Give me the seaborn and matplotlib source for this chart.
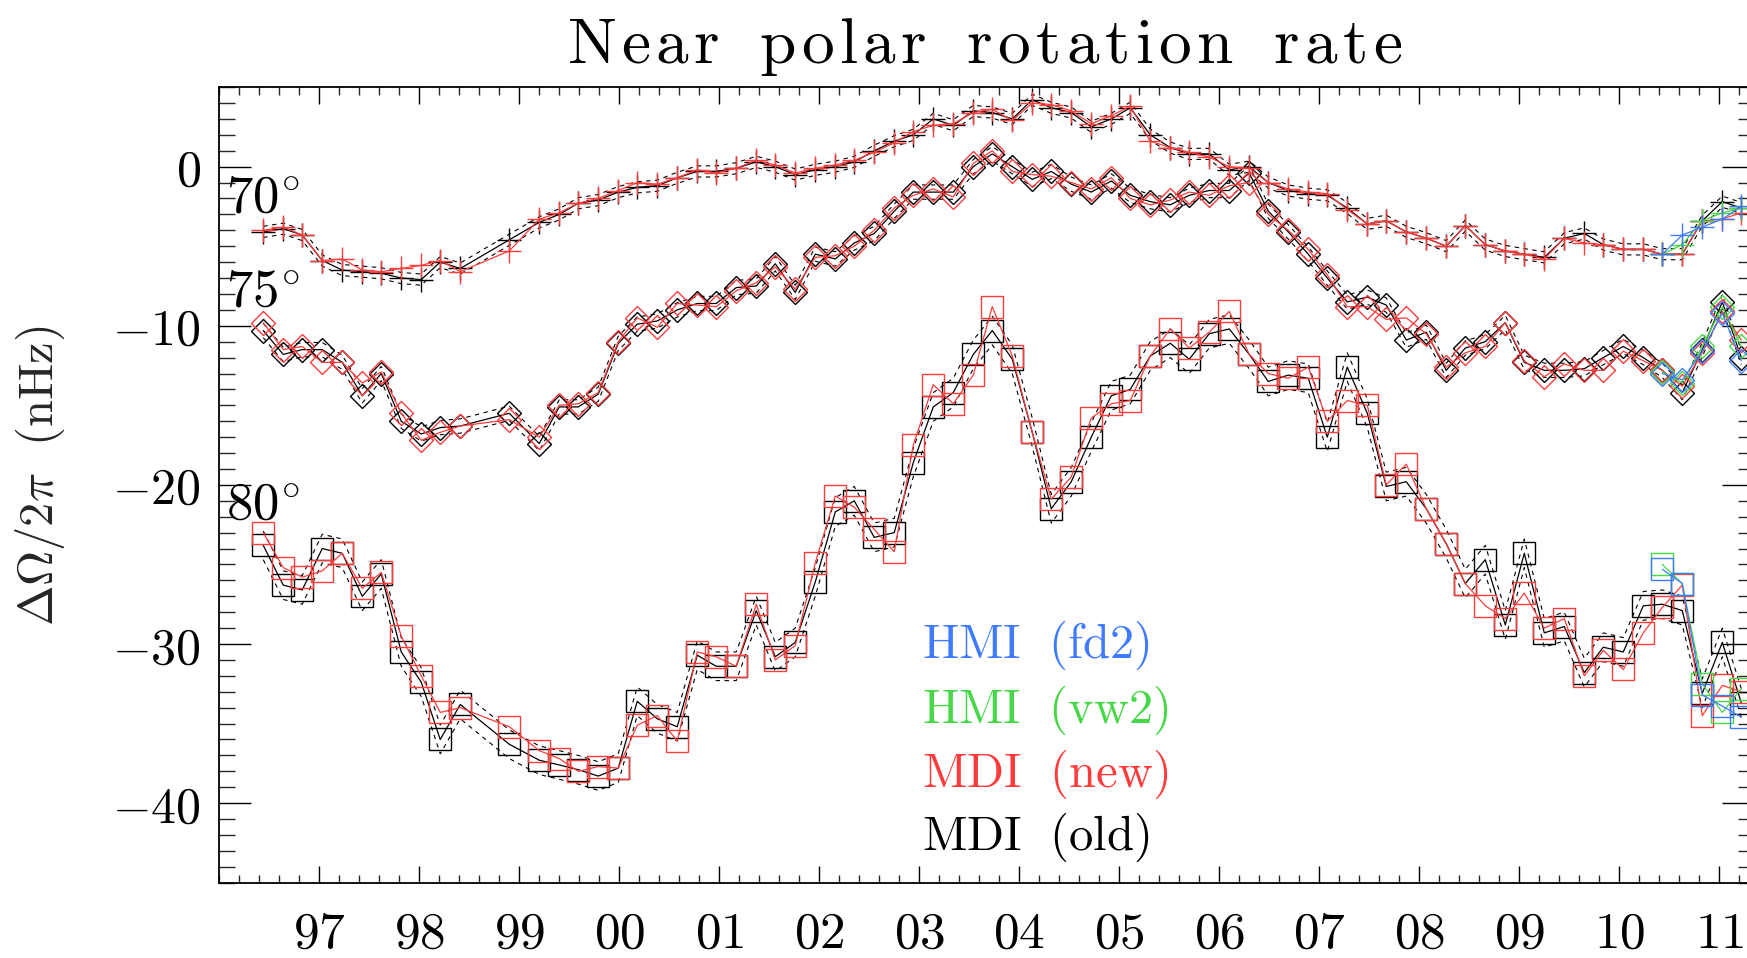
import numpy as np
import pandas as pd
import matplotlib
matplotlib.use("Agg")
import matplotlib.pyplot as plt
from matplotlib.ticker import FixedLocator, MultipleLocator, FuncFormatter
import seaborn as sns

# ---------------------------------------------------------------------------
# 72-day MDI epochs (decimal years) and HMI epochs
t_mdi = [1996.44, 1996.64, 1996.83, 1997.03, 1997.23, 1997.43, 1997.62, 1997.82,
         1998.02, 1998.21, 1998.41, 1998.90, 1999.20, 1999.40, 1999.59, 1999.79,
         1999.99, 2000.18, 2000.38, 2000.58, 2000.78, 2000.97, 2001.17, 2001.37,
         2001.56, 2001.76, 2001.96, 2002.16, 2002.35, 2002.55, 2002.75, 2002.94,
         2003.14, 2003.34, 2003.54, 2003.73, 2003.93, 2004.13, 2004.32, 2004.52,
         2004.72, 2004.92, 2005.11, 2005.31, 2005.51, 2005.70, 2005.90, 2006.10,
         2006.30, 2006.49, 2006.69, 2006.89, 2007.08, 2007.28, 2007.48, 2007.67,
         2007.87, 2008.07, 2008.27, 2008.46, 2008.66, 2008.86, 2009.05, 2009.25,
         2009.45, 2009.65, 2009.84, 2010.04, 2010.24, 2010.43, 2010.63, 2010.83,
         2011.03, 2011.22]
t_hmi = [2010.43, 2010.63, 2010.83, 2011.03, 2011.22]

# Rotation-rate residuals, nHz
mdi_old_70 = [-4.1, -3.9, -4.3, -5.9, -6.5, -6.6, -6.7, -7.0, -7.1, -6.0, -6.4, -4.6,
              -3.5, -3.0, -2.3, -2.1, -1.6, -1.3, -1.2, -0.7, -0.3, -0.3, -0.1, 0.3,
              0.0, -0.5, -0.2, 0.0, 0.3, 1.0, 1.6, 2.0, 3.0, 2.6, 3.5, 3.4, 3.0, 4.2,
              3.7, 3.4, 2.5, 3.0, 3.7, 2.0, 1.2, 0.8, 0.8, -0.2, 0.0, -1.0, -1.5, -1.7,
              -1.8, -2.6, -3.6, -3.4, -4.1, -4.5, -5.0, -3.7, -4.9, -5.3, -5.5, -5.7,
              -4.5, -4.2, -4.9, -5.2, -5.2, -5.5, -5.5, -3.4, -2.2, -2.6]
mdi_new_70 = [-4.0, -3.8, -4.3, -5.9, -5.8, -6.5, -6.6, -6.4, -6.2, -5.9, -6.6, -5.3,
              -3.3, -2.9, -2.3, -2.0, -1.5, -1.0, -1.1, -0.7, -0.2, -0.4, -0.1, 0.4,
              0.1, -0.4, -0.1, 0.1, 0.4, 0.9, 1.5, 2.2, 2.6, 2.7, 3.4, 3.6, 2.9, 4.0,
              3.9, 3.5, 2.7, 3.2, 3.8, 1.6, 1.2, 0.9, 0.6, 0.0, -0.1, -1.0, -1.4, -1.6,
              -1.7, -2.7, -3.6, -3.4, -4.1, -4.5, -5.0, -3.7, -4.9, -5.3, -5.5, -5.8,
              -4.5, -4.8, -4.9, -5.2, -5.2, -5.5, -5.5, -3.4, -3.3, -2.9]
mdi_old_75 = [-10.3, -11.8, -11.5, -11.5, -12.3, -14.4, -13.0, -16.0, -16.8, -16.4,
              -16.3, -15.5, -17.4, -15.1, -15.1, -14.3, -11.1, -9.9, -9.7, -9.0,
              -8.6, -8.6, -7.6, -7.5, -6.1, -7.9, -5.5, -5.8, -4.8, -4.2,
              -2.8, -1.6, -1.6, -1.6, 0.0, 0.8, 0.0, -0.8, -0.3, -1.1,
              -1.6, -0.9, -1.8, -2.2, -2.4, -1.8, -1.5, -1.5, -0.4, -2.8,
              -4.1, -5.5, -7.0, -8.5, -8.2, -8.7, -10.9, -10.4, -12.8, -11.4,
              -11.0, -9.8, -12.3, -12.8, -12.8, -12.7, -12.0, -11.3, -12.0, -12.8,
              -14.2, -11.5, -8.5, -12.0]
mdi_new_75 = [-9.8, -11.5, -11.3, -12.3, -12.3, -13.6, -12.9, -15.5, -17.2, -16.7,
              -16.3, -15.9, -17.0, -15.0, -14.9, -14.2, -11.0, -9.5, -10.1, -8.6,
              -8.7, -8.8, -7.8, -7.3, -6.3, -7.7, -5.7, -5.6, -5.0, -4.0,
              -2.6, -1.8, -1.4, -1.9, 0.2, 1.0, -0.3, -0.5, -0.6, -1.0,
              -1.4, -0.7, -2.0, -2.4, -2.1, -1.6, -1.8, -1.2, -1.0, -3.0,
              -4.0, -5.2, -6.8, -8.8, -8.8, -9.6, -9.5, -10.5, -12.6, -11.7,
              -11.3, -9.8, -12.2, -13.2, -12.4, -12.8, -12.8, -11.6, -12.2, -12.8,
              -13.8, -11.7, -9.1, -10.9]
mdi_old_80 = [-23.8, -26.3, -26.6, -24.0, -24.3, -27.0, -25.6, -30.5, -32.4, -36.0,
              -33.8, -36.3, -37.3, -37.6, -37.9, -38.3, -37.8, -33.6, -34.7, -35.2,
              -30.7, -31.4, -31.4, -27.9, -30.8, -29.9, -26.1, -21.7, -21.0, -23.3,
              -23.0, -18.6, -15.1, -14.2, -11.8, -10.3, -12.1, -16.7, -21.5, -19.8,
              -17.0, -14.4, -14.0, -11.9, -11.1, -12.1, -10.5, -10.2, -11.8, -13.5,
              -13.1, -13.3, -17.0, -12.6, -15.5, -20.1, -19.8, -21.5, -23.7, -26.2,
              -24.7, -28.8, -24.3, -29.3, -28.9, -31.8, -30.2, -30.5, -27.6, -27.5,
              -27.9, -33.1, -29.9, -33.7]
mdi_new_80 = [-23.0, -25.2, -25.8, -25.4, -24.3, -26.5, -25.5, -29.5, -32.0, -34.3,
              -34.0, -35.2, -36.7, -37.2, -38.0, -37.7, -37.8, -35.1, -34.5, -36.1,
              -30.5, -30.8, -31.4, -27.5, -31.0, -30.1, -24.9, -20.7, -21.4, -22.8,
              -24.2, -17.5, -13.7, -14.9, -13.1, -8.8, -11.9, -16.7, -20.9, -19.5,
              -15.8, -14.9, -14.7, -11.9, -10.2, -11.4, -10.4, -9.1, -11.8, -13.0,
              -13.3, -12.6, -16.0, -14.7, -15.0, -20.0, -18.7, -21.5, -23.7, -26.2,
              -27.6, -28.4, -26.8, -29.0, -28.4, -32.0, -30.4, -31.6, -29.3, -27.7,
              -26.3, -34.5, -32.6, -33.0]
hmi_fd2_70 = [-5.5, -4.3, -3.8, -3.3, -2.5]
hmi_vw2_70 = [-5.5, -4.9, -3.4, -2.9, -2.6]
hmi_fd2_75 = [-13.0, -13.4, -11.6, -9.2, -12.2]
hmi_vw2_75 = [-12.9, -13.6, -11.3, -8.8, -11.3]
hmi_fd2_80 = [-25.3, -26.2, -33.2, -33.9, -34.6]
hmi_vw2_80 = [-25.0, -26.2, -32.5, -34.3, -32.8]

# 1-sigma envelope of the old MDI inversion, nHz
err_old = {70: 0.35, 75: 0.45, 80: 0.9}

latitudes = [70, 75, 80]
year_ticks = list(range(1997, 2012))
value_ticks = [-40, -30, -20, -10, 0]
legend_labels = ["HMI (fd2)", "HMI (vw2)", "MDI (new)", "MDI (old)"]
title_text = "Near polar rotation rate"

# ---------------------------------------------------------------------------
sns.set_theme(style="white")
plt.rcParams["mathtext.fontset"] = "cm"
plt.rcParams["font.family"] = ["DejaVu Serif", "DejaVu Sans"]

C_OLD = "black"
C_NEW = "#ff3b3b"
C_VW2 = "#46d846"
C_FD2 = "#3f7bff"

fig = plt.figure(figsize=(17.47, 9.58), dpi=100)
fig.patch.set_facecolor("white")
ax = fig.add_axes([0.1255, 0.0786, 0.8785, 0.8305])
ax.set_facecolor("white")

markers = {70: ("+", 17.0), 75: ("D", 12.5), 80: ("s", 16.0)}

old = {70: mdi_old_70, 75: mdi_old_75, 80: mdi_old_80}
new = {70: mdi_new_70, 75: mdi_new_75, 80: mdi_new_80}
fd2 = {70: hmi_fd2_70, 75: hmi_fd2_75, 80: hmi_fd2_80}
vw2 = {70: hmi_vw2_70, 75: hmi_vw2_75, 80: hmi_vw2_80}


def series(x, y, color, marker, ms, lw=0.9, ls="-", z=2):
    sns.lineplot(x=np.asarray(x), y=np.asarray(y), ax=ax, color=color,
                 sort=False, estimator=None, lw=lw, ls=ls, zorder=z,
                 marker=marker if marker else None, markersize=ms,
                 markerfacecolor="none", markeredgecolor=color,
                 markeredgewidth=1.0)


for lat in latitudes:
    m, ms = markers[lat]
    y_old = np.asarray(old[lat])
    e = err_old[lat]
    # old reduction with its error envelope
    series(t_mdi, y_old, C_OLD, m, ms, lw=0.9, z=2)
    series(t_mdi, y_old + e, C_OLD, None, 0, lw=0.8, ls=(0, (4, 4)), z=2)
    series(t_mdi, y_old - e, C_OLD, None, 0, lw=0.8, ls=(0, (4, 4)), z=2)
    # new reduction
    series(t_mdi, new[lat], C_NEW, m, ms, lw=0.9, z=3)
    # HMI pipelines
    series(t_hmi, vw2[lat], C_VW2, m, ms, lw=0.9, z=4)
    series(t_hmi, fd2[lat], C_FD2, m, ms, lw=0.9, z=5)

ax.set_xlim(1996.0, 2011.347)
ax.set_ylim(-45, 5)
ax.set_xlabel("")

# axes frame and ticks
for s in ax.spines.values():
    s.set_visible(True)
    s.set_color("black")
    s.set_linewidth(1.3)

ax.xaxis.set_major_locator(FixedLocator(year_ticks))
ax.xaxis.set_minor_locator(MultipleLocator(0.2))
ax.yaxis.set_major_locator(FixedLocator(value_ticks))
ax.yaxis.set_minor_locator(MultipleLocator(1))
ax.xaxis.set_major_formatter(FuncFormatter(lambda v, p: r"$%02d$" % (int(round(v)) % 100)))
ax.yaxis.set_major_formatter(FuncFormatter(lambda v, p: r"$%d$" % int(round(v))))

ax.tick_params(axis="x", which="major", direction="in", length=12.5, width=1.0,
               top=True, bottom=True, labelsize=37, pad=19, colors="black")
ax.tick_params(axis="x", which="minor", direction="in", length=6, width=1.0,
               top=True, bottom=True)
ax.tick_params(axis="y", which="major", direction="in", length=23, width=1.0,
               left=True, right=True, labelsize=36, pad=13, colors="black")
ax.tick_params(axis="y", which="minor", direction="in", length=11.5, width=1.0,
               left=True, right=True)

# latitude labels
lat_pos = {70: 0.8418, 75: 0.7239, 80: 0.4559}
for lat in latitudes:
    ax.text(0.0045, lat_pos[lat], r"$%d^{\circ}$" % lat, transform=ax.transAxes,
            fontsize=38, ha="left", va="baseline", color="black", zorder=6)

# colour-keyed legend
leg_colors = [C_FD2, C_VW2, C_NEW, C_OLD]
leg_y = [0.2824, 0.2007, 0.1203, 0.0411]
for lab, col, yy in zip(legend_labels, leg_colors, leg_y):
    name, tag = lab.split(" ")
    ax.text(0.458, yy, r"$\mathrm{%s\ \ %s}$" % (name, tag), transform=ax.transAxes,
            fontsize=35, ha="left", va="baseline", color=col, zorder=6)

ax.set_ylabel(r"$\Delta\Omega/2\pi\ \ (\mathrm{nHz})$", fontsize=35)
ax.yaxis.set_label_coords(-0.099, 0.512)


def spaced(text, gap=0.095, word_gap=0.70):
    """Roman mathtext with a little extra tracking between letters."""
    words = []
    for w in text.split(" "):
        words.append((r"\hspace{%.3f}" % gap).join(r"\mathrm{%s}" % c for c in w))
    return "$" + (r"\hspace{%.3f}" % word_gap).join(words) + "$"


fig.text(0.5635, 1 - 63 / 958, spaced(title_text), fontsize=47,
         ha="center", va="baseline", color="black")

fig.savefig("out.png", dpi=100, facecolor="white")
